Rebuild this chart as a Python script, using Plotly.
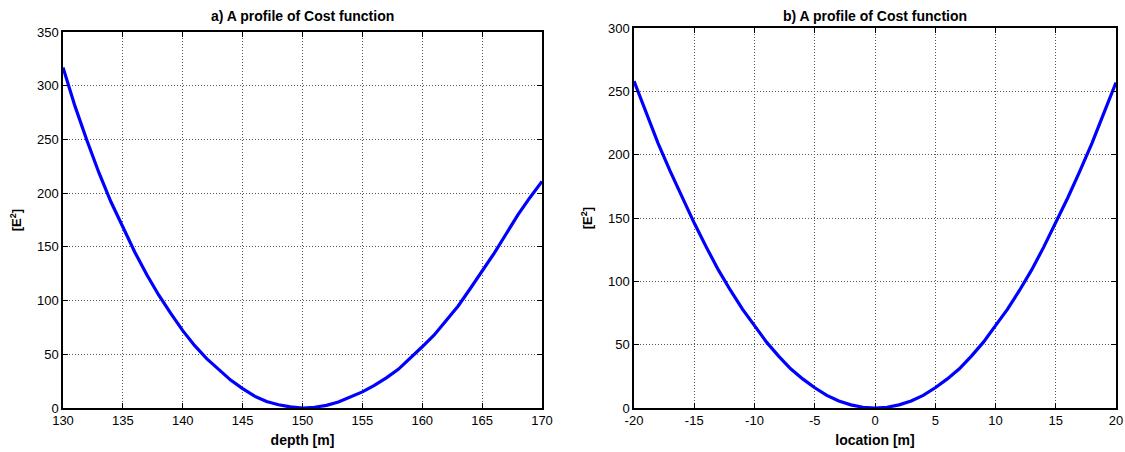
import plotly.graph_objects as go

# ---- data ----
depth = [130, 131, 132, 133, 134, 135, 136, 137, 138, 139, 140, 141, 142, 143, 144,
         145, 146, 147, 148, 149, 150, 151, 152, 153, 154, 155, 156, 157, 158, 159,
         160, 161, 162, 163, 164, 165, 166, 167, 168, 169, 170]
cost_depth = [317, 281, 249, 219, 192, 168, 145, 124, 105, 88, 72, 58, 46, 36, 26,
              18, 11, 6, 3, 1, 0, 0.7, 2.5, 5.5, 10, 15, 21, 28, 36, 46,
              57, 68, 81, 95, 111, 127, 144, 162, 180, 196, 211]

location = [-20, -19, -18, -17, -16, -15, -14, -13, -12, -11, -10, -9, -8, -7, -6,
            -5, -4, -3, -2, -1, 0, 1, 2, 3, 4, 5, 6, 7, 8, 9, 10, 11, 12, 13, 14,
            15, 16, 17, 18, 19, 20]
cost_loc = [258, 233, 209, 187, 166, 146, 127, 109, 93, 78, 65, 52, 41, 31, 23,
            16, 10, 5.5, 2.5, 0.6, 0, 0.6, 2.5, 5.5, 10, 16, 23, 31, 41, 52, 65,
            78, 93, 109, 127, 146, 166, 187, 209, 233, 257]

x1_ticks = [130, 135, 140, 145, 150, 155, 160, 165, 170]
y1_ticks = [0, 50, 100, 150, 200, 250, 300, 350]
x2_ticks = [-20, -15, -10, -5, 0, 5, 10, 15, 20]
x2_labels = ["-20", "-15", "-10", "-5", "0", "5", "10", "15", "20"]
y2_ticks = [0, 50, 100, 150, 200, 250, 300]

W, H = 1125, 452
FONT = "Liberation Sans, Arial, sans-serif"

fig = go.Figure()
fig.add_trace(go.Scatter(x=depth, y=cost_depth, mode="lines",
                         line=dict(color="#0000ff", width=3.2), xaxis="x", yaxis="y",
                         showlegend=False))
fig.add_trace(go.Scatter(x=location, y=cost_loc, mode="lines",
                         line=dict(color="#0000ff", width=3.2), xaxis="x2", yaxis="y2",
                         showlegend=False))

axis_common = dict(
    showline=True, linecolor="black", linewidth=1.5, mirror="ticks",
    ticks="inside", ticklen=5, tickcolor="black", tickwidth=1,
    showgrid=True, gridcolor="#555555", griddash="1px,2px", gridwidth=1,
    zeroline=False, automargin=False,
    tickfont=dict(family=FONT, size=13, color="black"),
)

title_font = dict(family=FONT, size=14, color="black")
ytitle_font = dict(family=FONT, size=13, color="black")

fig.update_layout(
    template="none",
    width=W, height=H, autosize=False,
    margin=dict(l=0, r=0, t=0, b=0),
    paper_bgcolor="white", plot_bgcolor="white",
    xaxis=dict(domain=[63 / W, 542 / W], range=[130, 170], tickvals=x1_ticks,
               anchor="y",
               title=dict(text="<b>depth [m]</b>", font=title_font, standoff=8),
               **axis_common),
    yaxis=dict(domain=[(H - 408) / H, (H - 32) / H], range=[0, 350], tickvals=y1_ticks,
               anchor="x",
               title=dict(text="<b>[E<sup>2</sup>]</b>", font=ytitle_font, standoff=12),
               **axis_common),
    xaxis2=dict(domain=[634 / W, 1116 / W], range=[-20, 20], tickvals=x2_ticks,
                ticktext=x2_labels, anchor="y2",
                title=dict(text="<b>location [m]</b>", font=title_font, standoff=8),
                **axis_common),
    yaxis2=dict(domain=[(H - 408) / H, (H - 28) / H], range=[0, 300], tickvals=y2_ticks,
                anchor="x2",
                title=dict(text="<b>[E<sup>2</sup>]</b>", font=ytitle_font, standoff=12),
                **axis_common),
    annotations=[
        dict(text="<b>a) A profile of Cost function</b>", x=(63 + 542) / 2 / W, y=1 - 16 / H,
             xref="paper", yref="paper", showarrow=False, xanchor="center", yanchor="middle",
             font=title_font),
        dict(text="<b>b) A profile of Cost function</b>", x=(634 + 1116) / 2 / W, y=1 - 16 / H,
             xref="paper", yref="paper", showarrow=False, xanchor="center", yanchor="middle",
             font=title_font),
    ],
)

fig.write_html("out.html")
